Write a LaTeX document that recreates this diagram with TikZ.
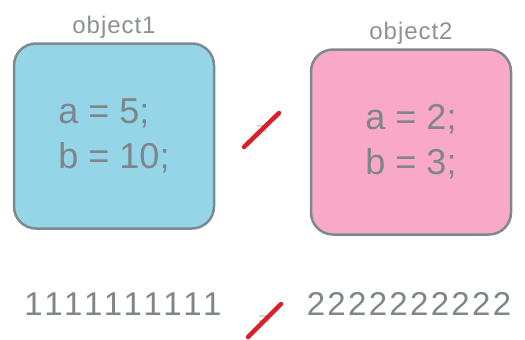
\documentclass[tikz,border=0pt]{standalone}
\usepackage{fontspec}
\setmainfont{Liberation Sans}
\usetikzlibrary{positioning}
\definecolor{boxblue}{HTML}{94D6E8}
\definecolor{boxpink}{HTML}{F9A9C5}
\definecolor{edgegrey}{HTML}{7C8A8E}
\definecolor{textgrey}{HTML}{808589}
\definecolor{slashred}{HTML}{D8202C}
\begin{document}
\begin{tikzpicture}[
    x=1pt, y=-1pt,
    objbox/.style={rectangle, draw=edgegrey, line width=2.5pt, rounded corners=22pt, minimum width=200pt, minimum height=185pt, align=left, text=textgrey, font=\fontsize{36}{45}\selectfont},
    title/.style={text=textgrey!90, font=\fontsize{24}{26}\selectfont\addfontfeatures{LetterSpace=4}},
    bits/.style={text=textgrey, font=\fontsize{33}{36}\selectfont\addfontfeatures{LetterSpace=#1}},
    eqsign/.style={text=gray!45, font=\fontsize{20}{20}\selectfont},
    slash/.style={slashred, line width=4.5pt, line cap=round}
]
\useasboundingbox (0,0) rectangle (525,340);

\node[objbox, fill=boxblue] (obj1) at (114,136) {a = 5;\\b = 10;};
\node[objbox, fill=boxpink] (obj2) at (411,142) {a = 2;\\b = 3;};
\node[title, above=0pt of obj1] (name1) {object1};
\node[title, above=0pt of obj2] (name2) {object2};

% not equal between objects
\node[eqsign] (eq1) at (262,131) {=};
\coordinate (s1a) at (244,147);
\coordinate (s1b) at (279,113);
\draw[slash] (s1a) -- (s1b);

% bit patterns
\node[bits=12] (bits1) at (123,304) {1111111111};
\node[bits=7] (bits2) at (409,304) {2222222222};
\node[eqsign] (eq2) at (264,321) {=};
\coordinate (s2a) at (248,337);
\coordinate (s2b) at (281,304);
\draw[slash] (s2a) -- (s2b);
\end{tikzpicture}
\end{document}
